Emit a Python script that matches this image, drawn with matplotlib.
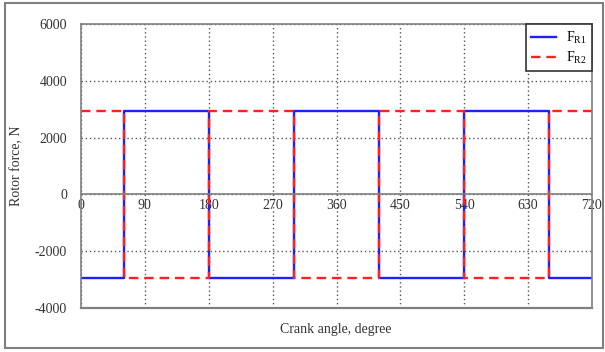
import matplotlib
matplotlib.use("Agg")
import matplotlib.pyplot as plt
from matplotlib.patches import Rectangle

# data
angle = [0, 60, 180, 300, 420, 540, 660, 720]
fr1 = [-2950, 2950, -2950, 2950, -2950, 2950, -2950, -2950]
fr2 = [2950, -2950, 2950, -2950, 2950, -2950, 2950, 2950]
xticks = [0, 90, 180, 270, 360, 450, 540, 630, 720]
yticks = [-4000, -2000, 0, 2000, 4000, 6000]

plt.rcParams['font.family'] = ['Liberation Serif', 'DejaVu Serif']
plt.rcParams['mathtext.fontset'] = 'custom'
plt.rcParams['mathtext.rm'] = 'Liberation Serif'
plt.rcParams['mathtext.it'] = 'Liberation Serif'
plt.rcParams['axes.unicode_minus'] = False

fig = plt.figure(figsize=(6.05, 3.52), dpi=100)
ax = fig.add_axes([81 / 605, 1 - 308 / 352, 511 / 605, 284 / 352])

gray = '#7f7f7f'
ax.plot(angle, fr1, drawstyle='steps-post', color='#1f1fff', lw=1.7, label='F$_{\\mathrm{R1}}$')
ax.plot(angle, fr2, drawstyle='steps-post', color='#ff2020', lw=1.7,
        ls=(0, (4, 2.5)), label='F$_{\\mathrm{R2}}$')

ax.set_xlim(0, 720)
ax.set_ylim(-4000, 6000)
ax.set_xticks(xticks)
ax.set_yticks(yticks)
ax.grid(True, ls=(0, (1, 2)), color='#555555', lw=1.0)

# x axis sits on the zero line, keep the box around the plot
ax.spines['bottom'].set_position(('data', 0))
for s in ax.spines.values():
    s.set_color(gray)
    s.set_linewidth(1.2)
ax.plot([0, 1], [0, 0], transform=ax.transAxes, color=gray, lw=1.6, clip_on=False)
ax.tick_params(length=0, labelsize=10, colors='#333333')
ax.tick_params(axis='x', pad=3)
ax.tick_params(axis='y', pad=10)

fig.text(17 / 605, 1 - 166 / 352, 'Rotor force, N', rotation=90, ha='center', va='center',
         fontsize=10, color='#333333')
fig.text(336 / 605, 1 - 329 / 352, 'Crank angle, degree', ha='center', va='center',
         fontsize=10, color='#333333')

leg = ax.legend(loc='upper right', fancybox=False, framealpha=1, edgecolor='#333333',
                fontsize=10, borderaxespad=0, handlelength=1.8, handletextpad=0.7,
                labelspacing=0.3)
leg.get_frame().set_linewidth(1.2)

fig.patches.append(Rectangle((5 / 605, 1 - 348 / 352), 598 / 605, 345 / 352,
                             transform=fig.transFigure, fill=False, edgecolor=gray, lw=1.5))

fig.savefig('out.png', dpi=100)
